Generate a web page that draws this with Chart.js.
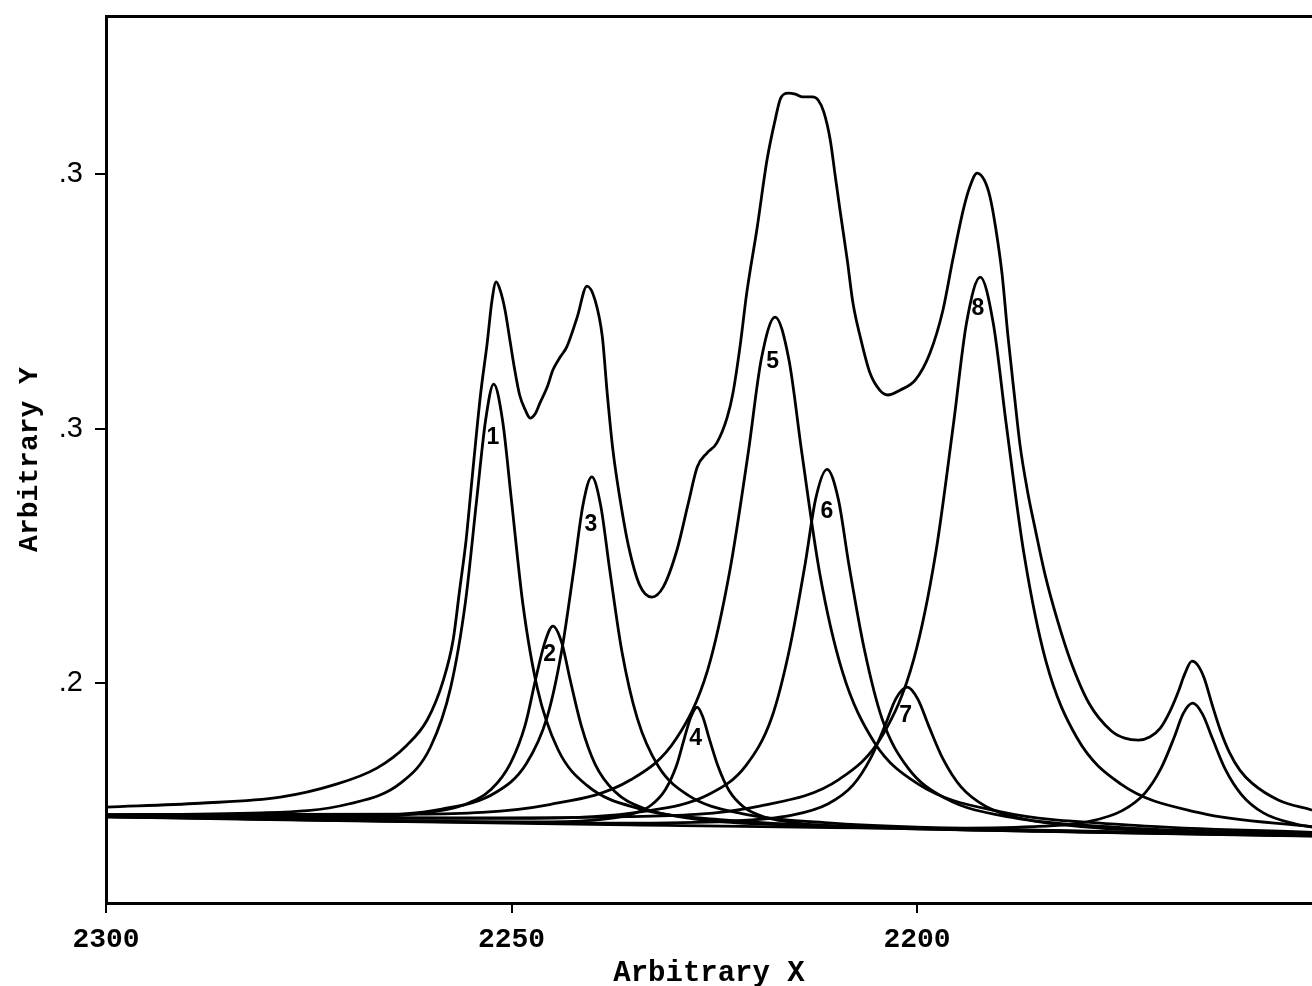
<!DOCTYPE html>
<html><head><meta charset="utf-8">
<script src="https://cdn.jsdelivr.net/npm/chart.js@4.4.0/dist/chart.umd.min.js"></script>
<style>html,body{margin:0;padding:0;background:#fff;overflow:hidden}canvas{display:block}</style>
</head><body>
<canvas id="c" width="1312" height="986"></canvas>
<script>
// ---- axis ticks / titles ----
const xTicks = [2300, 2250, 2200];
const yTickValues = [0.2, 0.3, 0.4];
const yTickLabels = ['.2', '.3', '.3'];
const xTitle = 'Arbitrary X';
const yTitle = 'Arbitrary Y';

// ---- measured envelope ----
const envelopeX = [2299.9,2288.4,2278.5,2272.0,2266.6,2262.9,2260.4,2258.4,2257.2,2256.4,2255.6,2255.0,2254.4,2253.8,2253.0,2252.4,2251.9,2251.4,2250.8,2250.2,2249.6,2249.0,2248.3,2247.7,2247.1,2246.5,2245.6,2244.9,2244.0,2243.2,2241.9,2240.7,2239.7,2238.8,2238.2,2237.5,2236.6,2235.6,2234.2,2232.7,2231.3,2229.6,2228.2,2227.1,2225.9,2224.7,2223.4,2222.7,2221.8,2221.0,2219.7,2218.5,2217.5,2216.8,2215.9,2215.0,2214.1,2212.9,2212.2,2211.5,2210.7,2210.1,2209.5,2208.6,2207.9,2207.0,2205.8,2204.6,2203.6,2202.1,2200.2,2198.4,2196.8,2195.6,2194.3,2193.5,2192.6,2191.7,2191.0,2190.3,2189.5,2188.8,2188.0,2187.3,2186.4,2185.4,2184.2,2182.7,2181.1,2178.8,2176.0,2174.4,2172.7,2171.3,2170.0,2168.8,2167.8,2167.0,2166.1,2165.4,2164.6,2163.6,2162.6,2161.5,2160.2,2158.7,2155.4,2151.3];
const envelopeY = [0.1513,0.1528,0.1552,0.1599,0.1666,0.1756,0.1855,0.2012,0.2169,0.2365,0.2562,0.2758,0.2955,0.3139,0.3336,0.3505,0.3576,0.3544,0.3466,0.3348,0.3230,0.3132,0.3073,0.3041,0.3057,0.3100,0.3163,0.3230,0.3281,0.3320,0.3438,0.3560,0.3505,0.3360,0.3139,0.2916,0.2719,0.2542,0.2385,0.2338,0.2377,0.2523,0.2707,0.2849,0.2904,0.2943,0.3045,0.3139,0.3328,0.3532,0.3792,0.4055,0.4212,0.4299,0.4318,0.4314,0.4303,0.4303,0.4291,0.4244,0.4134,0.3996,0.3859,0.3662,0.3493,0.3360,0.3218,0.3151,0.3132,0.3151,0.3191,0.3297,0.3466,0.3662,0.3859,0.3949,0.4004,0.3976,0.3910,0.3788,0.3603,0.3367,0.3132,0.2935,0.2758,0.2601,0.2424,0.2248,0.2090,0.1921,0.1811,0.1784,0.1776,0.1788,0.1823,0.1890,0.1965,0.2035,0.2086,0.2071,0.2020,0.1914,0.1815,0.1729,0.1658,0.1607,0.1540,0.1501];

// ---- fitted component bands ----
const peak1X = [2151.3,2190.0,2223.5,2234.3,2240.7,2244.3,2246.8,2248.6,2250.0,2251.1,2252.2,2253.2,2254.3,2255.7,2257.5,2260.0,2263.6,2270.1,2280.8,2300];
const peak1Y = [0.1401,0.1424,0.1462,0.1507,0.1598,0.1741,0.1978,0.2311,0.2716,0.3031,0.3175,0.3032,0.2719,0.2314,0.1983,0.1748,0.1609,0.1525,0.1490,0.1483];
const peak2X = [2151.3,2185.0,2217.3,2227.6,2233.8,2237.3,2239.7,2241.4,2242.8,2243.8,2244.9,2245.9,2247.0,2248.3,2250.1,2252.5,2255.9,2262.1,2272.5,2300];
const peak2Y = [0.1400,0.1418,0.1444,0.1467,0.1509,0.1575,0.1682,0.1833,0.2017,0.2158,0.2224,0.2159,0.2019,0.1837,0.1687,0.1583,0.1521,0.1485,0.1472,0.1477];
const peak3X = [2151.3,2185.0,2210.5,2221.6,2228.2,2231.9,2234.5,2236.4,2237.9,2239.0,2240.1,2241.2,2242.3,2243.8,2245.6,2248.2,2251.9,2258.6,2269.7,2300];
const peak3Y = [0.1401,0.1422,0.1450,0.1487,0.1559,0.1673,0.1862,0.2126,0.2447,0.2697,0.2810,0.2698,0.2450,0.2129,0.1867,0.1682,0.1571,0.1505,0.1479,0.1479];
const peak4X = [2151.3,2180.0,2206.4,2214.2,2218.8,2221.4,2223.2,2224.5,2225.6,2226.4,2227.1,2227.9,2228.7,2229.7,2231.0,2232.8,2235.4,2240.1,2247.8,2300];
const peak4Y = [0.1399,0.1415,0.1434,0.1448,0.1474,0.1514,0.1579,0.1670,0.1780,0.1866,0.1905,0.1866,0.1782,0.1672,0.1583,0.1520,0.1483,0.1461,0.1455,0.1474];
const peak5X = [2151.3,2173.1,2189.8,2199.8,2205.3,2209.2,2212.0,2214.2,2215.8,2217.5,2219.2,2220.8,2223.1,2225.8,2229.7,2235.3,2245.3,2261.9,2300];
const peak5Y = [0.1413,0.1441,0.1495,0.1602,0.1769,0.2045,0.2432,0.2904,0.3271,0.3438,0.3273,0.2908,0.2438,0.2053,0.1781,0.1620,0.1523,0.1485,0.1483];
const peak6X = [2151.3,2174.6,2188.3,2196.5,2201.1,2204.3,2206.5,2208.4,2209.7,2211.1,2212.5,2213.8,2215.7,2217.9,2221.1,2225.7,2233.9,2247.6,2300];
const peak6Y = [0.1407,0.1432,0.1472,0.1547,0.1666,0.1859,0.2133,0.2465,0.2722,0.2840,0.2724,0.2467,0.2137,0.1866,0.1676,0.1562,0.1495,0.1469,0.1477];
const peak7X = [2151.3,2165.7,2179.0,2187.0,2191.5,2194.6,2196.8,2198.6,2199.9,2201.2,2202.6,2203.9,2205.7,2207.9,2211.0,2215.4,2223.4,2236.8,2300];
const peak7Y = [0.1403,0.1415,0.1434,0.1467,0.1515,0.1593,0.1702,0.1835,0.1937,0.1984,0.1939,0.1837,0.1706,0.1599,0.1525,0.1481,0.1457,0.1450,0.1475];
const peak8X = [2151.3,2165.1,2174.9,2180.3,2184.1,2186.8,2189.0,2190.6,2192.2,2193.9,2195.5,2197.7,2200.4,2204.2,2209.6,2219.4,2235.6,2268.0,2300];
const peak8Y = [0.1436,0.1490,0.1604,0.1786,0.2085,0.2505,0.3017,0.3414,0.3595,0.3415,0.3020,0.2510,0.2094,0.1798,0.1622,0.1517,0.1475,0.1468,0.1479];
const peak9X = [2151.3,2153.3,2157.3,2160.0,2162.0,2163.6,2164.8,2166.0,2167.2,2168.3,2169.9,2171.9,2174.7,2178.6,2185.7,2197.6,2240.0,2300];
const peak9Y = [0.1434,0.1446,0.1490,0.1562,0.1662,0.1784,0.1878,0.1921,0.1879,0.1786,0.1666,0.1568,0.1499,0.1458,0.1436,0.1430,0.1445,0.1474];

// ---- peak number labels ----
const peakLabelText = ['1','2','3','4','5','6','7','8'];
const peakLabelX = [2252.3,2245.3,2240.2,2227.3,2217.8,2211.1,2201.4,2192.5];
const peakLabelY = [0.2963,0.2110,0.2621,0.1780,0.3261,0.2672,0.1874,0.3470];

const series = [
  [envelopeX, envelopeY],
  [peak1X, peak1Y],[peak2X, peak2Y],[peak3X, peak3Y],[peak4X, peak4Y],
  [peak5X, peak5Y],[peak6X, peak6Y],[peak7X, peak7Y],[peak8X, peak8Y],[peak9X, peak9Y]
];

const datasets = series.map(([xs, ys]) => ({
  data: xs.map((x, i) => ({x: x, y: ys[i]})),
  borderColor: '#000',
  borderWidth: 2.8,
  pointRadius: 0,
  fill: false,
  cubicInterpolationMode: 'monotone',
  xAxisID: 'x',
  yAxisID: 'y'
}));

const labelPlugin = {
  id: 'peakLabels',
  afterDatasetsDraw(chart) {
    const {ctx} = chart;
    const xs = chart.scales.x, ys = chart.scales.y;
    ctx.save();
    ctx.font = 'bold 23px "Liberation Sans"';
    ctx.fillStyle = '#000';
    ctx.textAlign = 'center';
    ctx.textBaseline = 'middle';
    peakLabelText.forEach((t, i) => {
      ctx.fillText(t, xs.getPixelForValue(peakLabelX[i]), ys.getPixelForValue(peakLabelY[i]));
    });
    ctx.restore();
  }
};

const X_MIN = 2151.3, X_MAX = 2300, Y_MIN = 0.1136, Y_MAX = 0.4621;

new Chart(document.getElementById('c'), {
  type: 'line',
  data: {datasets},
  options: {
    responsive: false,
    animation: false,
    devicePixelRatio: 1,
    layout: {padding: {top: 16, left: 0, right: 0, bottom: 0}},
    plugins: {legend: {display: false}, tooltip: {enabled: false}},
    scales: {
      x: {
        type: 'linear', position: 'bottom', reverse: true, min: X_MIN, max: X_MAX,
        afterBuildTicks: s => { s.ticks = xTicks.map(v => ({value: v})); },
        afterFit: s => { s.height = 83; s.paddingLeft = 0; s.paddingRight = 0; },
        grid: {drawOnChartArea: false, drawTicks: true, tickLength: 10, color: '#000', lineWidth: 2},
        border: {display: true, color: '#000', width: 3},
        ticks: {color: '#000', autoSkip: false, maxRotation: 0, padding: 10,
          font: {family: 'Liberation Mono', size: 28, weight: 'bold'},
          callback: v => String(v)},
        title: {display: true, text: xTitle, color: '#000',
          font: {family: 'Liberation Mono', size: 29, weight: 'bold', lineHeight: 1},
          padding: {top: 0, bottom: -2}}
      },
      x2: {
        type: 'linear', position: 'top', reverse: true, min: X_MIN, max: X_MAX,
        afterFit: s => { s.height = 0; s.paddingLeft = 0; s.paddingRight = 0; },
        ticks: {display: false},
        grid: {display: false, drawTicks: false},
        border: {display: true, color: '#000', width: 3}
      },
      y: {
        type: 'linear', position: 'left', min: Y_MIN, max: Y_MAX,
        afterBuildTicks: s => { s.ticks = yTickValues.map(v => ({value: v})); },
        afterFit: s => { s.width = 106; s.paddingTop = 0; s.paddingBottom = 0; },
        grid: {drawOnChartArea: false, drawTicks: true, tickLength: 11, color: '#000', lineWidth: 2},
        border: {display: true, color: '#000', width: 3},
        ticks: {color: '#000', padding: 12,
          font: {family: 'Liberation Sans', size: 29},
          callback: v => { const i = yTickValues.findIndex(t => Math.abs(t - v) < 1e-9); return i >= 0 ? yTickLabels[i] : ''; }},
        title: {display: true, text: yTitle, color: '#000',
          font: {family: 'Liberation Mono', size: 28, weight: 'bold', lineHeight: 1},
          padding: {top: 16, bottom: 0}}
      }
    }
  },
  plugins: [labelPlugin]
});
</script>
</body></html>
